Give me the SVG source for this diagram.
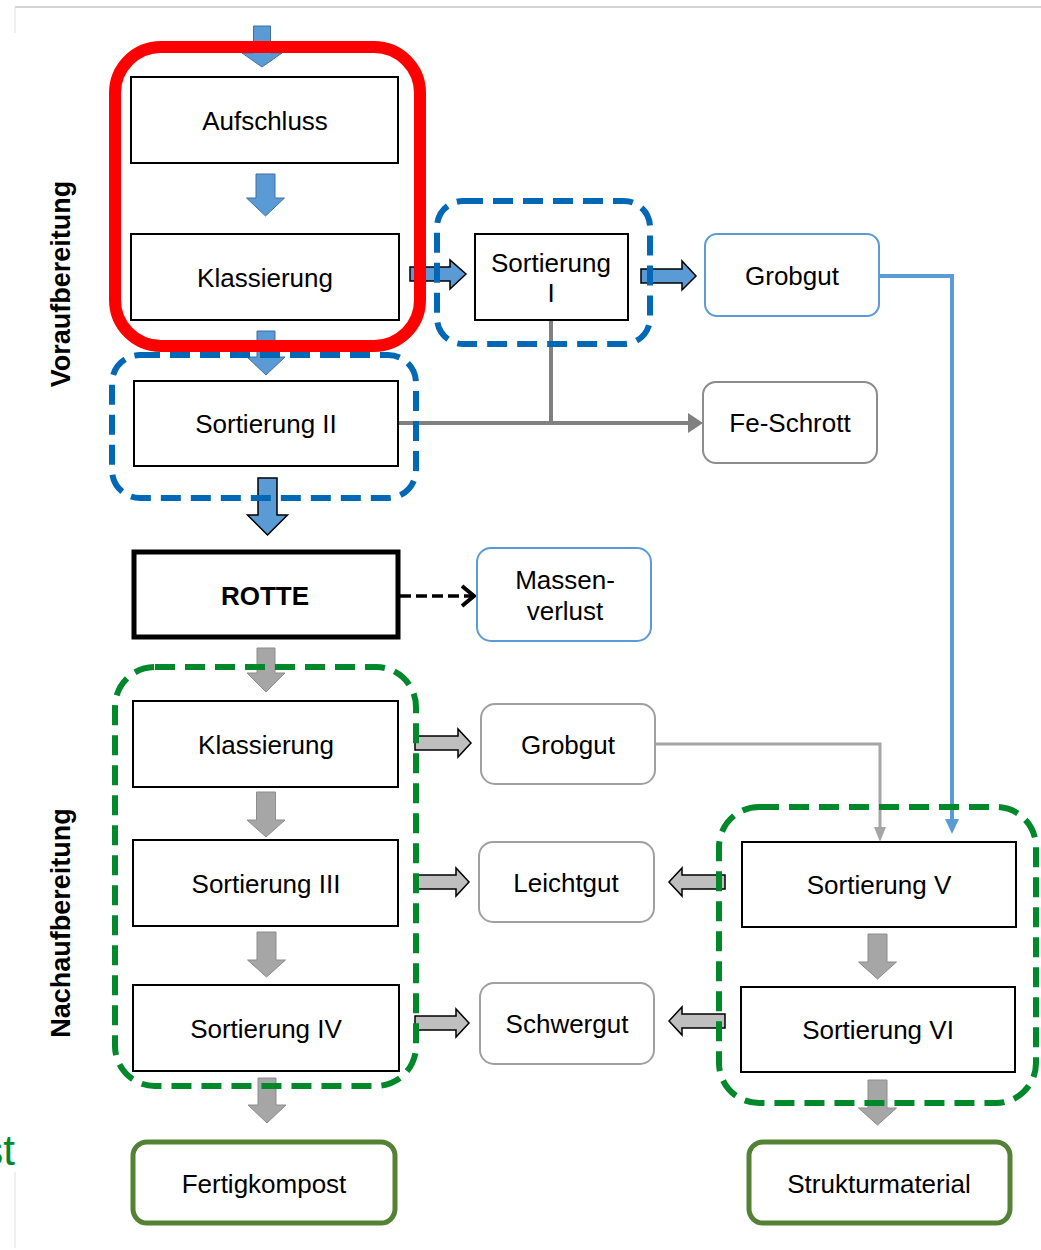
<svg xmlns="http://www.w3.org/2000/svg" width="1041" height="1250" viewBox="0 0 1041 1250">
<style>
text{font-family:"Liberation Sans",Arial,sans-serif;font-size:26px;fill:#000;text-anchor:middle}
.box{fill:#fff;stroke:#000;stroke-width:2}
.bold{font-weight:bold}
.blueOut{fill:#fff;stroke:#5b9bd5;stroke-width:2}
.grayOut{fill:#fff;stroke:#a0a0a0;stroke-width:2}
.greenOut{fill:#fff;stroke:#548235;stroke-width:5}
.blueDash{fill:none;stroke:#0068b4;stroke-width:6;stroke-dasharray:20 10}
.greenDash{fill:none;stroke:#00882a;stroke-width:6;stroke-dasharray:20 10}
.bA{fill:#5b9bd5;stroke:#41719c;stroke-width:1}
.bAk{fill:#5b9bd5;stroke:#000;stroke-width:1.5}
.gA{fill:#a6a6a6;stroke:#8c8c8c;stroke-width:1}
.gAk{fill:#bfbfbf;stroke:#000;stroke-width:1.5}
.side{font-weight:bold;font-size:27px}
</style>
<rect width="1041" height="1250" fill="#fff"/>
<g id="frame">
<line x1="15" y1="7" x2="1041" y2="7" stroke="#d4d4d4" stroke-width="2"/>
<line x1="15" y1="7" x2="15" y2="33" stroke="#e0e0e0" stroke-width="1"/>
<line x1="15" y1="1172" x2="15" y2="1248" stroke="#e0e0e0" stroke-width="1"/>
<text x="15" y="1165" style="font-size:42px;fill:#00882a;text-anchor:end">st</text>
</g>
<g id="connectors">
<!-- blue block arrows -->
<polygon class="bA" points="253.5,26 270.5,26 270.5,53 282,53 262,67 242,53 253.5,53"/>
<polygon class="bA" points="256,174 275,174 275,198 284.5,198 265.5,216 246.5,198 256,198"/>
<polygon class="bA" points="257,331 275,331 275,357 285,357 266,375 247,357 257,357"/>
<polygon class="bAk" points="258,478 277,478 277,515 287.5,515 267.5,535 247.5,515 258,515"/>
<polygon class="bAk" points="410,267 450,267 450,260 466,274 450,289 450,281 410,281"/>
<polygon class="bAk" points="641,269 682,269 682,261 696,276 682,290 682,283 641,283"/>
<!-- gray block arrows vertical -->
<polygon class="gA" points="257,648 275,648 275,673 285,673 266,692 247,673 257,673"/>
<polygon class="gA" points="256.5,792 275.5,792 275.5,820 285,820 266,837 247,820 256.5,820"/>
<polygon class="gA" points="257,932 276,932 276,960 285.5,960 266.5,977 247.5,960 257,960"/>
<polygon class="gA" points="258,1078 276,1078 276,1105 286,1105 267,1123 248,1105 258,1105"/>
<polygon class="gA" points="868,934 887,934 887,962 896.5,962 877.5,979 858.5,962 868,962"/>
<polygon class="gA" points="868,1080 887,1080 887,1108 896.5,1108 877.5,1125 858.5,1108 868,1108"/>
<!-- gray block arrows horizontal -->
<polygon class="gAk" points="415,736 458,736 458,729 471,743 458,757 458,750 415,750"/>
<polygon class="gAk" points="417,875 456,875 456,868 469,882 456,896 456,889 417,889"/>
<polygon class="gAk" points="415,1016 456,1016 456,1009 469,1023 456,1037 456,1030 415,1030"/>
<polygon class="gAk" points="725,875 682,875 682,868 669,882 682,896 682,889 725,889"/>
<polygon class="gAk" points="725,1014 682,1014 682,1007 669,1021 682,1035 682,1028 725,1028"/>
<!-- Fe-Schrott lines -->
<polyline points="551,320 551,423" fill="none" stroke="#808080" stroke-width="4"/>
<polyline points="398,423 690,423" fill="none" stroke="#808080" stroke-width="4"/>
<polygon points="688,413 703,423 688,433" fill="#808080"/>
<!-- blue line Grobgut to Sortierung V -->
<polyline points="879,276 952,276 952,822" fill="none" stroke="#5b9bd5" stroke-width="4"/>
<polygon points="945,819 952,834 959,819" fill="#5b9bd5"/>
<!-- gray line Grobgut2 to Sortierung V -->
<polyline points="655,744 880,744 880,830" fill="none" stroke="#a6a6a6" stroke-width="3"/>
<polygon points="874,827 880,842 886,827" fill="#a6a6a6"/>
<!-- dashed ROTTE to Massenverlust -->
<line x1="400" y1="596" x2="472" y2="596" stroke="#000" stroke-width="3.5" stroke-dasharray="11 5"/>
<polyline points="462,586 474,596 462,606" fill="none" stroke="#000" stroke-width="4"/>
</g>
<g id="n-aufschluss"><rect class="box" x="131" y="77" width="267" height="86"/><text x="265" y="130">Aufschluss</text></g>
<g id="n-klassierung1"><rect class="box" x="131" y="234" width="268" height="86"/><text x="265" y="287">Klassierung</text></g>
<g id="n-sortierung1"><rect class="box" x="475" y="234" width="153" height="86"/><text x="551" y="272">Sortierung</text><text x="551" y="302">I</text></g>
<g id="n-grobgut1"><rect class="blueOut" x="705" y="234" width="174" height="82" rx="12"/><text x="792" y="285">Grobgut</text></g>
<g id="n-sortierung2"><rect class="box" x="134" y="381" width="264" height="85"/><text x="266" y="433">Sortierung II</text></g>
<g id="n-feschrott"><rect class="grayOut" x="703" y="382" width="174" height="81" rx="13" style="stroke:#8c8c8c"/><text x="790" y="432">Fe-Schrott</text></g>
<g id="n-rotte"><rect x="134" y="552" width="264" height="85" fill="#fff" stroke="#000" stroke-width="5"/><text class="bold" x="265" y="605">ROTTE</text></g>
<g id="n-massenverlust"><rect class="blueOut" x="477" y="548" width="174" height="93" rx="14"/><text x="565" y="589">Massen-</text><text x="565" y="620">verlust</text></g>
<g id="n-klassierung2"><rect class="box" x="133" y="701" width="265" height="86"/><text x="266" y="754">Klassierung</text></g>
<g id="n-sortierung3"><rect class="box" x="133" y="840" width="265" height="86"/><text x="266" y="893">Sortierung III</text></g>
<g id="n-sortierung4"><rect class="box" x="133" y="985" width="266" height="86"/><text x="266" y="1038">Sortierung IV</text></g>
<g id="n-grobgut2"><rect class="grayOut" x="481" y="704" width="174" height="80" rx="14"/><text x="568" y="754">Grobgut</text></g>
<g id="n-leichtgut"><rect class="grayOut" x="479" y="842" width="175" height="80" rx="14"/><text x="566" y="892">Leichtgut</text></g>
<g id="n-schwergut"><rect class="grayOut" x="480" y="983" width="174" height="81" rx="14"/><text x="567" y="1033">Schwergut</text></g>
<g id="n-sortierung5"><rect class="box" x="742" y="842" width="274" height="85"/><text x="879" y="894">Sortierung V</text></g>
<g id="n-sortierung6"><rect class="box" x="741" y="987" width="274" height="85"/><text x="878" y="1039">Sortierung VI</text></g>
<g id="n-fertigkompost"><rect class="greenOut" x="133" y="1142" width="262" height="81" rx="14"/><text x="264" y="1193">Fertigkompost</text></g>
<g id="n-strukturmaterial"><rect class="greenOut" x="749" y="1142" width="261" height="81" rx="14"/><text x="879" y="1193">Strukturmaterial</text></g>
<g id="g-sort1"><rect class="blueDash" x="437" y="201" width="213" height="143" rx="26"/></g>
<g id="g-sort2"><rect class="blueDash" x="112" y="355" width="304" height="143" rx="28"/></g>
<g id="g-nach-left"><rect class="greenDash" x="115" y="667" width="301" height="419" rx="40"/></g>
<g id="g-nach-right"><rect class="greenDash" x="719" y="807" width="317" height="296" rx="40"/></g>
<g id="g-vor-red"><rect x="115" y="47" width="305" height="299" rx="46" fill="none" stroke="#ff0000" stroke-width="12"/></g>
<g id="labels">
<text class="side" transform="translate(70,284) rotate(-90)">Voraufbereitung</text>
<text class="side" transform="translate(70,923) rotate(-90)">Nachaufbereitung</text>
</g>
</svg>
